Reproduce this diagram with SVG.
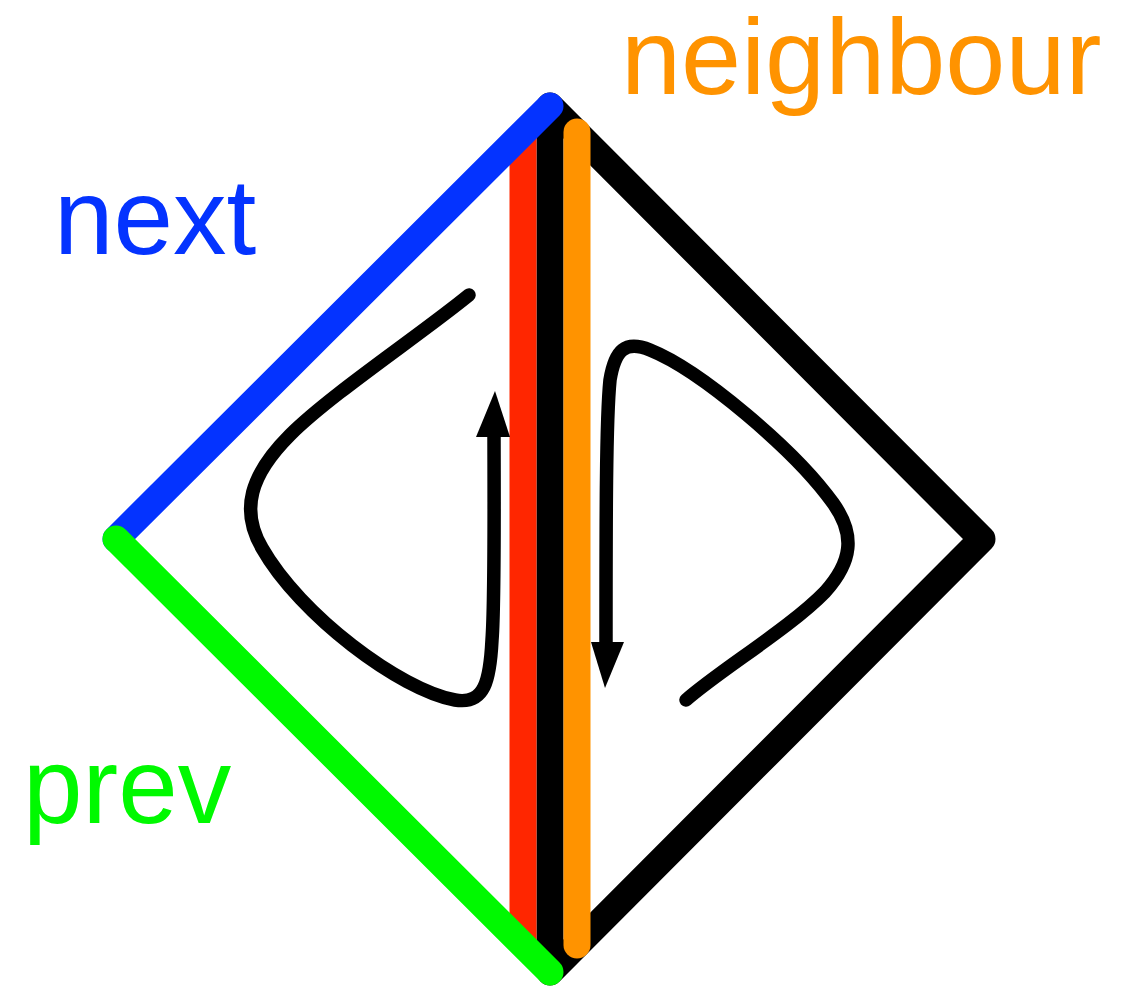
<svg xmlns="http://www.w3.org/2000/svg" width="1137" height="986" viewBox="0 0 1137 986">
<style>
.edge{fill:none;stroke-width:27;stroke-linecap:round;stroke-linejoin:round}
.flow{fill:none;stroke:#000;stroke-width:13.5;stroke-linecap:round;stroke-linejoin:round}
.lbl{font-family:"Liberation Sans",Arial,sans-serif;font-size:107px}
</style>
<rect width="1137" height="986" fill="#fff"/>
<g id="connectors">
<g id="black-edges">
<path class="edge" stroke="#000" d="M550,106 L982,539 L550,972"/>
<path class="edge" stroke="#000" style="stroke-linecap:butt" d="M550,106 L550,972"/>
</g>
<path id="red-edge" class="edge" stroke="#FF2600" style="stroke-linecap:butt" d="M523,128 L523,945"/>
<path id="neighbour-edge" class="edge" stroke="#FF9300" d="M577,132 L577,945"/>
<path id="next-edge" class="edge" stroke="#0433FF" d="M550,106 L116,539"/>
<path id="prev-edge" class="edge" stroke="#00F900" d="M116,539 L550,972"/>
<g id="left-loop">
<path class="flow" d="M469,295 C420,335 330,395 290,435 C250,475 240,510 262,548 C300,615 400,690 455,700 C485,705 490,680 492,640 C495,600 494,480 494,432"/>
<polygon points="495,391 476,437 510,437" fill="#000"/>
</g>
<g id="right-loop">
<path class="flow" d="M686,700 C720,670 790,628 825,592 C852,562 856,535 833,503 C795,450 700,370 650,350 C625,340 615,350 610,380 C606,420 606,520 606,646"/>
<polygon points="605,688 591,642 624,642" fill="#000"/>
</g>
</g>
<g id="label-neighbour"><text class="lbl" x="621" y="94" fill="#FF9300" style="font-size:108px">neighbour</text></g>
<g id="label-next"><text class="lbl" x="54" y="254" fill="#0433FF">next</text></g>
<g id="label-prev"><text class="lbl" x="23" y="823" fill="#00F900">prev</text></g>
</svg>
